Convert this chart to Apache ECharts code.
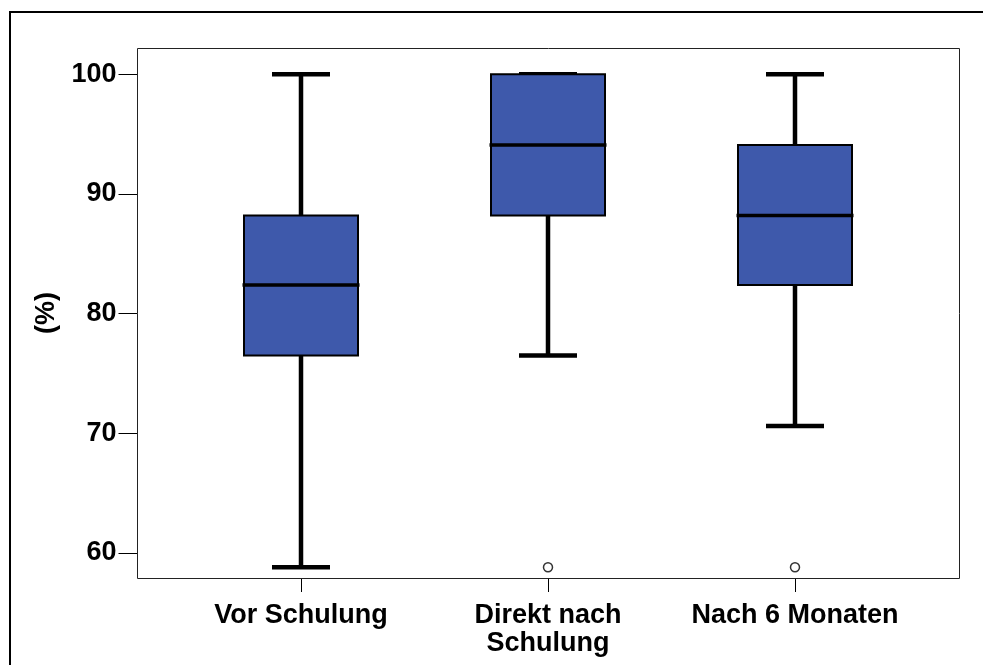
<!DOCTYPE html>
<html>
<head>
<meta charset="utf-8">
<script src="https://cdn.jsdelivr.net/npm/echarts@6/dist/echarts.min.js"></script>
<style>
html, body { margin: 0; padding: 0; background: #fff; }
#chart { width: 983px; height: 665px; }
</style>
</head>
<body>
<div id="chart"></div>
<script>
const categories = ['Vor Schulung', 'Direkt nach\nSchulung', 'Nach 6 Monaten'];
const whiskerLow = [58.8, 76.5, 70.6];
const q1 = [76.5, 88.2, 82.4];
const median = [82.4, 94.1, 88.2];
const q3 = [88.2, 100, 94.1];
const whiskerHigh = [100, 100, 100];
const outlierCategory = ['Direkt nach\nSchulung', 'Nach 6 Monaten'];
const outlierValue = [58.8, 58.8];
const yTicks = [60, 70, 80, 90, 100];
const yName = '(%)';

const FONT = 'Liberation Sans, Arial, sans-serif';
const BOX_COLOR = '#3E59AB';
const Y_MIN = 57.9, Y_MAX = 102.2;

const gridPos = { left: 177.5, right: 64.5, top: 48, bottom: 87 };

const whiskerData = categories.map((c, i) => [whiskerLow[i], median[i], median[i], median[i], whiskerHigh[i]]);
const boxData = categories.map((c, i) => [q1[i], q1[i], median[i], q3[i], q3[i]]);
const medianData = categories.map((c, i) => [median[i], median[i], median[i], median[i], median[i]]);
const outlierData = outlierCategory.map((c, i) => [c, outlierValue[i]]);

function hiddenX(idx) {
  return { type: 'category', gridIndex: idx, data: categories, show: false, boundaryGap: true };
}
function hiddenY(idx) {
  return { type: 'value', gridIndex: idx, min: Y_MIN, max: Y_MAX, show: false, splitLine: { show: false } };
}

const chart = echarts.init(document.getElementById('chart'), null, { renderer: 'canvas' });
chart.setOption({
  animation: false,
  backgroundColor: '#fff',
  grid: [
    Object.assign({}, gridPos),
    Object.assign({}, gridPos),
    Object.assign({}, gridPos)
  ],
  graphic: [
    { type: 'rect', silent: true, z: 0,
      shape: { x: 10, y: 12, width: 1000, height: 700 },
      style: { fill: 'none', stroke: '#000', lineWidth: 2 } },
    { type: 'rect', silent: true, z: 1,
      shape: { x: 137.5, y: 48.5, width: 822, height: 530 },
      style: { fill: 'none', stroke: '#222', lineWidth: 1 } }
  ],
  xAxis: [
    {
      type: 'category', gridIndex: 0, data: categories, boundaryGap: true,
      axisLine: { show: false },
      axisTick: { show: true, interval: 0, alignWithLabel: true, length: 14, lineStyle: { color: '#000', width: 1 } },
      axisLabel: { interval: 0, margin: 24, color: '#000', fontFamily: FONT, fontWeight: 'bold', fontSize: 27, lineHeight: 28 },
      splitLine: { show: false }
    },
    hiddenX(1),
    hiddenX(2)
  ],
  yAxis: [
    {
      type: 'value', gridIndex: 0, min: Y_MIN, max: Y_MAX, offset: 40,
      name: yName, nameLocation: 'middle', nameGap: 77,
      nameTextStyle: { color: '#000', fontFamily: FONT, fontWeight: 'bold', fontSize: 27 },
      axisLine: { show: false },
      axisTick: { show: true, length: 19, customValues: yTicks, lineStyle: { color: '#000', width: 1 } },
      axisLabel: { margin: 21, customValues: yTicks, color: '#000', fontFamily: FONT, fontWeight: 'bold', fontSize: 27 },
      splitLine: { show: false }
    },
    hiddenY(1),
    hiddenY(2)
  ],
  series: [
    {
      type: 'boxplot', name: 'whisker', xAxisIndex: 0, yAxisIndex: 0, z: 2, silent: true,
      boxWidth: [58, 58], data: whiskerData,
      itemStyle: { color: '#000', borderColor: '#000', borderWidth: 4.5 },
      emphasis: { disabled: true }
    },
    {
      type: 'boxplot', name: 'box', xAxisIndex: 1, yAxisIndex: 1, z: 3, silent: true,
      boxWidth: [114, 114], data: boxData,
      itemStyle: { color: BOX_COLOR, borderColor: '#000', borderWidth: 2 },
      emphasis: { disabled: true }
    },
    {
      type: 'boxplot', name: 'median', xAxisIndex: 2, yAxisIndex: 2, z: 4, silent: true,
      boxWidth: [117, 117], data: medianData,
      itemStyle: { color: '#000', borderColor: '#000', borderWidth: 3.5 },
      emphasis: { disabled: true }
    },
    {
      type: 'scatter', name: 'outlier', xAxisIndex: 0, yAxisIndex: 0, z: 5, silent: true,
      symbol: 'circle', symbolSize: 9, data: outlierData,
      itemStyle: { color: '#fff', borderColor: '#000', borderWidth: 1.5 },
      emphasis: { disabled: true }
    }
  ]
});
</script>
</body>
</html>
